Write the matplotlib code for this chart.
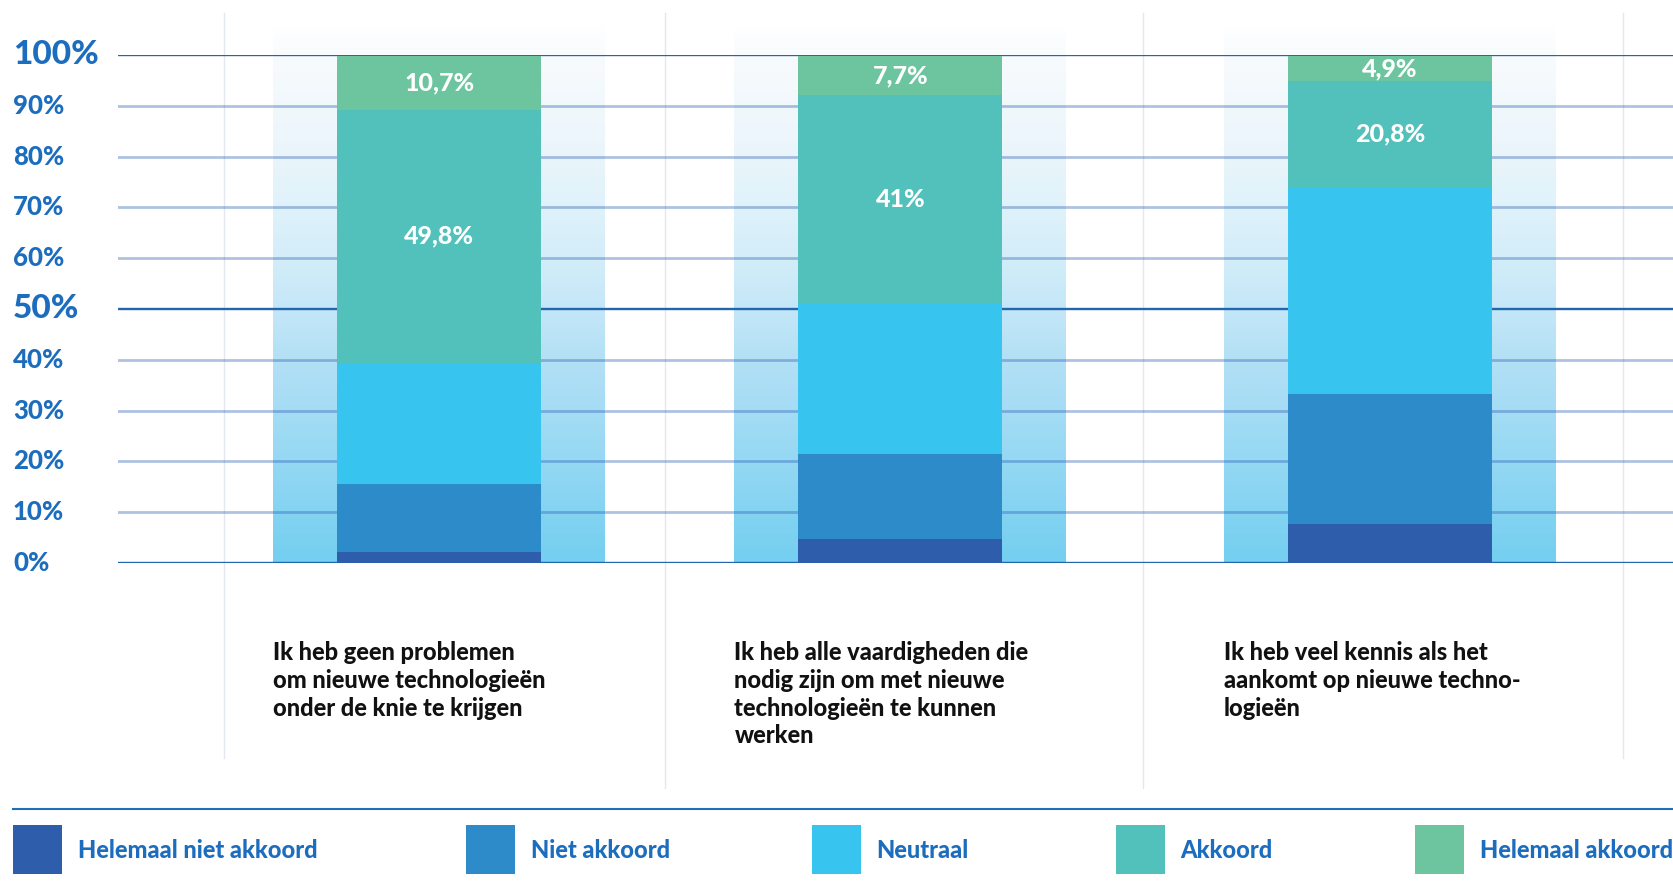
import matplotlib
matplotlib.use("Agg")
import matplotlib.pyplot as plt
import numpy as np
from matplotlib.colors import LinearSegmentedColormap
from matplotlib.patches import Rectangle
from matplotlib.lines import Line2D

# ---------------- data ----------------
categories = [
    "Ik heb geen problemen\nom nieuwe technologieën\nonder de knie te krijgen",
    "Ik heb alle vaardigheden die\nnodig zijn om met nieuwe\ntechnologieën te kunnen\nwerken",
    "Ik heb veel kennis als het\naankomt op nieuwe techno-\nlogieën",
]
series_names = ["Helemaal niet akkoord", "Niet akkoord", "Neutraal", "Akkoord", "Helemaal akkoord"]
helemaal_niet_akkoord = [2.2, 4.7, 7.7]
niet_akkoord = [13.4, 16.8, 25.6]
neutraal = [23.8, 29.6, 40.8]
akkoord = [49.8, 41.0, 20.8]
helemaal_akkoord = [10.7, 7.7, 4.9]
akkoord_labels = ["49,8%", "41%", "20,8%"]
helemaal_akkoord_labels = ["10,7%", "7,7%", "4,9%"]
y_ticks = [0, 10, 20, 30, 40, 50, 60, 70, 80, 90, 100]
y_tick_labels = ["0%", "10%", "20%", "30%", "40%", "50%", "60%", "70%", "80%", "90%", "100%"]

# ---------------- style / layout ----------------
colors = ["#2d5dab", "#2e8bc9", "#37c4ee", "#53c1bb", "#6cc59f"]
blue_text = "#1c6dbd"
W, H = 1674, 885
plt.rcParams["font.family"] = ["Lato", "DejaVu Sans"]
WEIGHT = 900

fig = plt.figure(figsize=(W / 100, H / 100), dpi=100)
fig.patch.set_facecolor("white")

def fx(x):
    return x / W

def fy(y):
    return 1 - y / H

y0_px, y100_px = 563, 55
x_left_px = 118.5
ax = fig.add_axes([fx(x_left_px), fy(y0_px), fx(W - x_left_px), (y0_px - y100_px) / H])
ax.set_xlim(x_left_px, W)
ax.set_ylim(0, 100)
ax.axis("off")

bar_centers = [439.3, 900.5, 1390.0]
bar_width = 204
bg_width = 332
bg_top = 106

# background gradient columns
stops = [(0.0, (116, 207, 240)), (10, (132, 211, 242)), (20, (149, 216, 243)),
         (30, (165, 220, 245)), (40, (179, 224, 245)), (50, (196, 231, 248)),
         (60, (211, 237, 249)), (70, (223, 242, 250)), (80, (233, 245, 251)),
         (90, (241, 248, 252)), (100, (248, 251, 253)), (106, (255, 255, 255))]
cmap = LinearSegmentedColormap.from_list(
    "bg", [(p / bg_top, tuple(c / 255 for c in rgb)) for p, rgb in stops])
grad = np.linspace(1, 0, 400).reshape(-1, 1)
for c in bar_centers:
    ax.imshow(grad, cmap=cmap, vmin=0, vmax=1, extent=(c - bg_width / 2, c + bg_width / 2, 0, bg_top),
              aspect="auto", origin="upper", interpolation="bilinear", zorder=1, clip_on=False)
ax.set_xlim(x_left_px, W)
ax.set_ylim(0, 100)

# vertical separators (figure coords)
for xs, ybot in [(224.2, 758), (665, 788), (1143.4, 788), (1622.7, 758)]:
    fig.add_artist(Line2D([fx(xs), fx(xs)], [fy(13), fy(ybot)], color="#e3e7f2", lw=1, zorder=0))

# gridlines
for t in y_ticks:
    if t in (0, 50, 100):
        ax.axhline(t, color="#2266ad", lw=1.7, zorder=2)
    else:
        ax.axhline(t, color="#2d5fb5", alpha=0.38, lw=2.0, zorder=2)

# stacked bars
series = [helemaal_niet_akkoord, niet_akkoord, neutraal, akkoord, helemaal_akkoord]
bottom = np.zeros(len(categories))
bottoms = []
for vals, col in zip(series, colors):
    ax.bar(bar_centers, vals, width=bar_width, bottom=bottom, color=col, zorder=3, linewidth=0)
    bottoms.append(bottom.copy())
    bottom = bottom + np.array(vals)

# value labels
for i, c in enumerate(bar_centers):
    b = bottoms[3][i]
    ax.text(c, b + akkoord[i] / 2, akkoord_labels[i], ha="center", va="center",
            color="white", fontsize=18, fontweight=WEIGHT, zorder=5)
    b = bottoms[4][i]
    ax.text(c, b + helemaal_akkoord[i] / 2, helemaal_akkoord_labels[i], ha="center", va="center",
            color="white", fontsize=18, fontweight=WEIGHT, zorder=5)

# y tick labels
for t, lab in zip(y_ticks, y_tick_labels):
    ypix = y0_px - (y0_px - y100_px) * t / 100
    big = t in (50, 100)
    fig.text(fx(13), fy(ypix), lab, ha="left", va="center", color=blue_text,
             fontsize=24 if big else 18.5, fontweight=WEIGHT)

# category labels
for c, cat in zip(bar_centers, categories):
    fig.text(fx(c - bg_width / 2), fy(641), cat, ha="left", va="top", color="#111111",
             fontsize=17, fontweight=WEIGHT, linespacing=1.25)

# legend separator
fig.add_artist(Line2D([fx(13), 1.0], [fy(809), fy(809)], color="#1f6eb8", lw=1.5))

# legend
sq_x = [12.8, 465.5, 812.4, 1115.6, 1415.5]
lab_x = [78, 530.6, 876.5, 1180.7, 1479.7]
for sx, lx, name, col in zip(sq_x, lab_x, series_names, colors):
    fig.add_artist(Rectangle((fx(sx), fy(874)), fx(49), 49 / H, transform=fig.transFigure,
                             facecolor=col, edgecolor="none"))
    fig.text(fx(lx), fy(850), name, ha="left", va="center", color=blue_text,
             fontsize=17, fontweight=WEIGHT)

fig.savefig("out.png", dpi=100, facecolor="white")
